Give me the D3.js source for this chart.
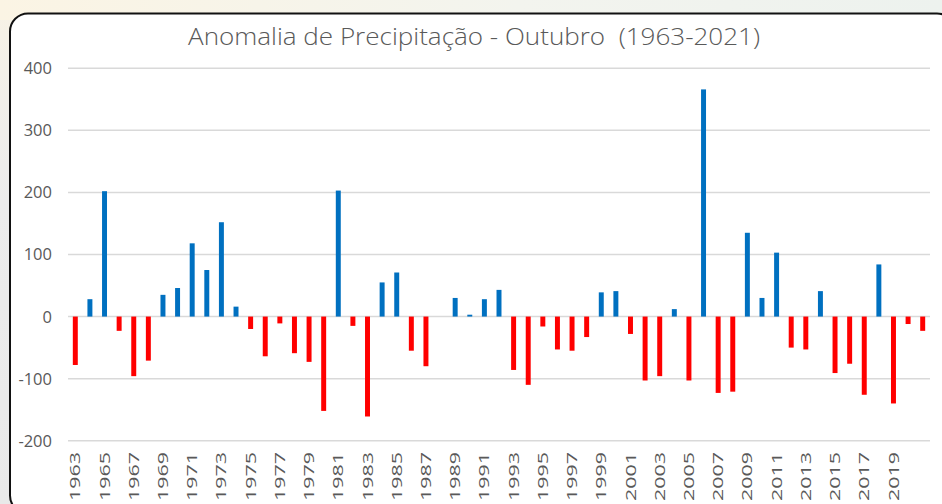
<!DOCTYPE html>
<html>
<head>
<meta charset="utf-8">
<script src="https://cdn.jsdelivr.net/npm/d3@7"></script>
<style>
  html, body { margin: 0; padding: 0; background: #eeeeea; }
  svg { display: block; }
</style>
</head>
<body>
<svg id="chart" width="942" height="504"></svg>
<script>
const years = d3.range(1963, 2022).map(String);
const anomalies = [
  -78, 28, 202, -23, -96, -71, 35, 46, 118, 75,
  152, 16, -20, -64, -11, -59, -73, -152, 203, -15,
  -161, 55, 71, -55, -80, 0, 30, 3, 28, 43,
  -86, -110, -16, -53, -55, -33, 39, 41, -28, -103,
  -96, 12, -103, 366, -123, -121, 135, 30, 103, -50,
  -53, 41, -91, -76, -126, 84, -140, -12, -23
];
const yTicks = [-200, -100, 0, 100, 200, 300, 400];
const xTickLabels = years.filter((d, i) => i % 2 === 0 && i < 58);
const title = "Anomalia de Precipitação - Outubro  (1963-2021)";

const svg = d3.select("#chart");

// page background
const defs = svg.append("defs");
const g1 = defs.append("linearGradient").attr("id", "bgTop").attr("x1", 0).attr("x2", 1).attr("y1", 0).attr("y2", 0);
g1.append("stop").attr("offset", "0%").attr("stop-color", "#fbf4e4");
g1.append("stop").attr("offset", "55%").attr("stop-color", "#f3f4ee");
g1.append("stop").attr("offset", "100%").attr("stop-color", "#edf2ee");
const g2 = defs.append("linearGradient").attr("id", "bgLeft").attr("x1", 0).attr("x2", 0).attr("y1", 0).attr("y2", 1);
g2.append("stop").attr("offset", "0%").attr("stop-color", "#f7f2e6");
g2.append("stop").attr("offset", "40%").attr("stop-color", "#ececec");
g2.append("stop").attr("offset", "100%").attr("stop-color", "#e9e9e9");

svg.append("rect").attr("x", 0).attr("y", 0).attr("width", 942).attr("height", 504).attr("fill", "url(#bgLeft)");
svg.append("rect").attr("x", 0).attr("y", 0).attr("width", 942).attr("height", 20).attr("fill", "url(#bgTop)");

// chart card
svg.append("rect")
  .attr("x", 10).attr("y", 13.5)
  .attr("width", 945).attr("height", 500)
  .attr("rx", 18).attr("ry", 18)
  .attr("fill", "#ffffff")
  .attr("stroke", "#111111")
  .attr("stroke-width", 2);

const x = d3.scaleBand()
  .domain(years)
  .range([68, 930])
  .paddingInner(0.66)
  .paddingOuter(0.33);

const y = d3.scaleLinear()
  .domain([-200, 400])
  .range([440.7, 68.3]);

// gridlines
svg.append("g")
  .selectAll("line")
  .data(yTicks)
  .join("line")
  .attr("x1", 68).attr("x2", 930)
  .attr("y1", d => y(d)).attr("y2", d => y(d))
  .attr("stroke", "#d9d9d9")
  .attr("stroke-width", 1.5);

// y axis labels
svg.append("g")
  .selectAll("text")
  .data(yTicks)
  .join("text")
  .attr("x", 52)
  .attr("y", d => y(d))
  .attr("dy", "0.36em")
  .attr("text-anchor", "end")
  .attr("font-family", "'Open Sans', sans-serif")
  .attr("font-size", 16.5)
  .attr("fill", "#595959")
  .text(d => d);

// bars
svg.append("g")
  .selectAll("rect")
  .data(anomalies.map((v, i) => ({ year: years[i], v })))
  .join("rect")
  .attr("x", d => x(d.year))
  .attr("width", x.bandwidth())
  .attr("y", d => y(Math.max(0, d.v)))
  .attr("height", d => Math.abs(y(d.v) - y(0)))
  .attr("fill", d => d.v >= 0 ? "#0070c0" : "#ff0000");

// x axis labels
svg.append("g")
  .selectAll("text")
  .data(xTickLabels)
  .join("text")
  .attr("transform", d => `translate(${x(d) + x.bandwidth() / 2},452) rotate(-90)`)
  .attr("dy", "0.36em")
  .attr("text-anchor", "end")
  .attr("font-family", "'Open Sans', sans-serif")
  .attr("font-size", 14)
  .attr("textLength", 49)
  .attr("lengthAdjust", "spacingAndGlyphs")
  .attr("fill", "#595959")
  .text(d => d);

// title
svg.append("text")
  .attr("x", 474)
  .attr("y", 45)
  .attr("text-anchor", "middle")
  .attr("font-family", "'Open Sans', sans-serif")
  .attr("font-weight", 300)
  .attr("font-size", 23)
  .attr("textLength", 572)
  .attr("lengthAdjust", "spacingAndGlyphs")
  .attr("fill", "#595959")
  .style("white-space", "pre")
  .text(title);
</script>
</body>
</html>
